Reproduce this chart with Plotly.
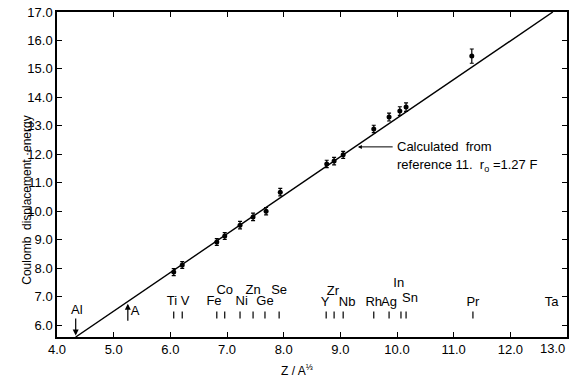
import plotly.graph_objects as go

# measured points
elements = ["Ti", "V", "Fe", "Co", "Ni", "Zn", "Ge", "Se", "Y", "Zr", "Nb",
            "Rh", "Ag", "In", "Sn", "Pr"]
z_a13 = [6.06, 6.21, 6.82, 6.96, 7.23, 7.46, 7.69, 7.94, 8.76, 8.89, 9.05,
         9.59, 9.86, 10.05, 10.16, 11.32]
energy = [7.86, 8.11, 8.92, 9.13, 9.51, 9.80, 10.0, 10.67, 11.66, 11.76, 11.98,
          12.89, 13.31, 13.52, 13.66, 15.45]
energy_err = [0.12, 0.12, 0.12, 0.12, 0.13, 0.13, 0.13, 0.13, 0.13, 0.13, 0.12,
              0.13, 0.14, 0.15, 0.15, 0.25]

# calculated line (r0 = 1.27 F)
calc_x = [4.33, 12.75]
calc_y = [5.58, 17.0]

# element markers along the bottom
tick_names = ["Ti", "V", "Fe", "Co", "Ni", "Zn", "Ge", "Se", "Y", "Zr", "Nb",
              "Rh", "Ag", "In", "Sn", "Pr"]
tick_x = [6.06, 6.21, 6.82, 6.96, 7.23, 7.46, 7.67, 7.92, 8.75, 8.89, 9.05,
          9.59, 9.86, 10.07, 10.16, 11.34]
label_names = ["Al", "A", "Ti", "V", "Fe", "Co", "Ni", "Zn", "Ge", "Se", "Y", "Zr",
               "Nb", "Rh", "Ag", "In", "Sn", "Pr", "Ta"]
label_x = [4.35, 5.38, 6.03, 6.26, 6.77, 6.96, 7.26, 7.46, 7.67, 7.92, 8.73, 8.87,
           9.12, 9.59, 9.86, 10.03, 10.23, 11.34, 12.73]
label_y = [6.49, 6.46, 6.81, 6.81, 6.81, 7.2, 6.81, 7.2, 6.81, 7.2, 6.77, 7.16,
           6.77, 6.77, 6.77, 7.44, 6.91, 6.77, 6.77]

x_ticks = [4.0, 5.0, 6.0, 7.0, 8.0, 9.0, 10.0, 11.0, 12.0, 13.0]
y_ticks = [6.0, 7.0, 8.0, 9.0, 10.0, 11.0, 12.0, 13.0, 14.0, 15.0, 16.0, 17.0]

FONT = "Liberation Sans"
BLACK = "black"

fig = go.Figure()
fig.add_trace(go.Scatter(x=calc_x, y=calc_y, mode="lines",
                         line=dict(color=BLACK, width=1.4), hoverinfo="skip"))
fig.add_trace(go.Scatter(
    x=z_a13, y=energy, mode="markers",
    marker=dict(color=BLACK, size=5),
    error_y=dict(type="data", array=energy_err, color=BLACK, thickness=1.2, width=2),
))
fig.add_trace(go.Scatter(
    x=tick_x, y=[6.35] * len(tick_x), mode="markers",
    marker=dict(symbol="line-ns", size=5, line=dict(color=BLACK, width=1.2)),
    hoverinfo="skip"))
fig.add_trace(go.Scatter(
    x=label_x, y=label_y, mode="text", text=label_names,
    textfont=dict(family=FONT, size=13, color=BLACK), hoverinfo="skip"))

arrow = dict(xref="x", yref="y", axref="x", ayref="y", text="", showarrow=True,
             arrowcolor=BLACK)
# Al and A arrows
fig.add_annotation(x=4.33, y=5.63, ax=4.33, ay=6.28, arrowhead=2, arrowsize=1,
                   arrowwidth=1.2, **arrow)
fig.add_annotation(x=5.25, y=6.75, ax=5.25, ay=6.1, arrowhead=2, arrowsize=1,
                   arrowwidth=1.2, **arrow)
# pointer to the calculated line
fig.add_annotation(x=9.31, y=12.26, ax=9.95, ay=12.26, arrowhead=2, arrowsize=0.8,
                   arrowwidth=1, **arrow)
fig.add_annotation(x=9.97, y=12.26, xref="x", yref="y", xanchor="left",
                   text="Calculated  from", showarrow=False,
                   font=dict(family=FONT, size=13, color=BLACK))
fig.add_annotation(x=9.97, y=11.62, xref="x", yref="y", xanchor="left",
                   text="reference 11.  r<sub>o</sub> =1.27 F", showarrow=False,
                   font=dict(family=FONT, size=13, color=BLACK))

# last x tick label, right-aligned at its tick
fig.add_annotation(x=x_ticks[-1], xref="x", y=-0.035, yref="paper",
                   xanchor="right", yanchor="middle", text=f"{x_ticks[-1]:.1f}",
                   showarrow=False, font=dict(family=FONT, size=13, color=BLACK))

# axis titles
fig.add_annotation(xref="paper", yref="paper", x=-0.078, y=0.42,
                   text="Coulomb  displacement \u00b7energy", textangle=-90,
                   showarrow=False, font=dict(family=FONT, size=12, color=BLACK))
fig.add_annotation(xref="paper", yref="paper", x=0.47, y=-0.1, yanchor="middle",
                   text="Z / A<sup>\u2153</sup>", showarrow=False,
                   font=dict(family=FONT, size=12, color=BLACK))

axis_common = dict(showgrid=False, zeroline=False, showline=True, linecolor=BLACK,
                   linewidth=1.5, mirror="ticks", ticks="inside", ticklen=5,
                   tickcolor=BLACK, tickwidth=1, automargin=False,
                   tickfont=dict(family=FONT, size=13, color=BLACK))
fig.update_xaxes(range=[4.0, 13.0], tickvals=x_ticks,
                 ticktext=[f"{v:.1f}" for v in x_ticks[:-1]] + [""], **axis_common)
fig.update_yaxes(range=[5.58, 17.0], tickvals=y_ticks,
                 ticktext=[f"{v:.1f}" for v in y_ticks], **axis_common)

fig.update_layout(width=576, height=377, showlegend=False,
                  margin=dict(l=57, r=9, t=12, b=40, autoexpand=False),
                  paper_bgcolor="white", plot_bgcolor="white")
fig.write_html("out.html", config={"displayModeBar": False},
               post_script="document.body.style.margin='0';document.body.style.overflow='hidden';")
